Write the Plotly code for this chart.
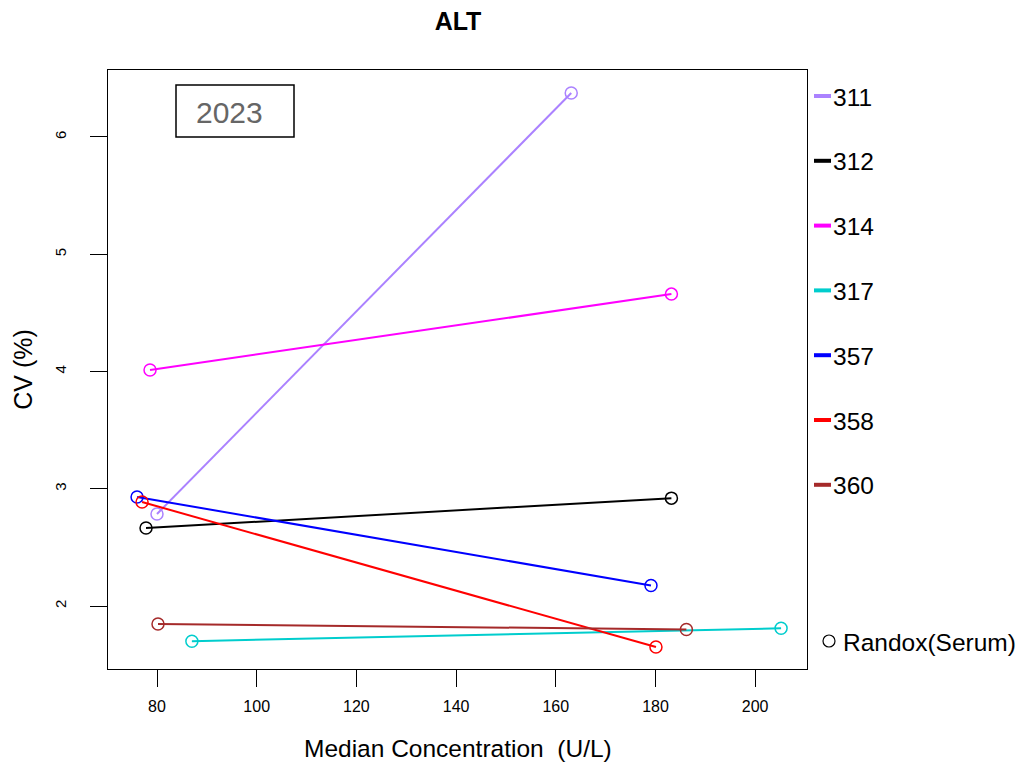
import plotly.graph_objects as go

series = ["311", "312", "314", "317", "357", "358", "360"]
colors = ["#AB82FF", "#000000", "#FF00FF", "#00CDCD", "#0000FF", "#FF0000", "#A52A2A"]
x_vals = [[80.0, 163.1], [77.8, 183.2], [78.6, 183.2], [87.0, 205.2], [76.0, 179.1], [77.0, 180.1], [80.2, 186.2]]
y_vals = [[2.785, 6.375], [2.665, 2.92], [4.013, 4.66], [1.70, 1.81], [2.93, 2.175], [2.887, 1.65], [1.847, 1.80]]
x_ticks = [80, 100, 120, 140, 160, 180, 200]
y_ticks = [2, 3, 4, 5, 6]
year_label = "2023"
marker_label = "Randox(Serum)"
x_title = "Median Concentration  (U/L)"
y_title = "CV (%)"

FONT = "Liberation Sans, Arial, sans-serif"
fig = go.Figure()
for name, c, xs, ys in zip(series, colors, x_vals, y_vals):
    fig.add_trace(go.Scatter(x=xs, y=ys, mode="lines+markers", name=name,
                             line=dict(color=c, width=2),
                             marker=dict(symbol="circle-open", size=12, color=c, line=dict(width=1.5, color=c)),
                             showlegend=False))

OFF = 8  # page body margin
W, H = 1025 - 2 * OFF, 770 - 2 * OFF
# plot box in screen pixels
SL, SR, ST, SB = 108, 807, 70, 669

def px(X):
    return (X - SL) / (SR - SL)
def py(Y):
    return (SB - Y) / (SB - ST)

shapes = []
annotations = []
# legend (drawn in paper coords)
for i, (name, c) in enumerate(zip(series, colors)):
    yc = 96 + i * 64.8
    shapes.append(dict(type="line", xref="paper", yref="paper", x0=px(814), x1=px(831),
                       y0=py(yc), y1=py(yc), line=dict(color=c, width=4)))
    annotations.append(dict(xref="paper", yref="paper", x=px(831), y=py(yc + 1), text=name,
                            showarrow=False, xanchor="left", yanchor="middle",
                            font=dict(family=FONT, size=24.5, color="black")))
shapes.append(dict(type="circle", xref="paper", yref="paper", x0=px(823), x1=px(835),
                   y0=py(647), y1=py(635), line=dict(color="black", width=1.2)))
annotations.append(dict(xref="paper", yref="paper", x=px(841), y=py(642), text=marker_label,
                        showarrow=False, xanchor="left", yanchor="middle",
                        font=dict(family=FONT, size=24.5, color="black")))
# year box
shapes.append(dict(type="rect", xref="paper", yref="paper", x0=px(176), x1=px(294),
                   y0=py(137), y1=py(85), line=dict(color="black", width=1.5)))
annotations.append(dict(xref="paper", yref="paper", x=px(229), y=py(112), text=year_label,
                        showarrow=False, xanchor="center", yanchor="middle",
                        font=dict(family=FONT, size=30, color="#666666")))
# x axis title
annotations.append(dict(xref="paper", yref="paper", x=0.5, y=py(733), text=x_title,
                        showarrow=False, xanchor="center", yanchor="top",
                        font=dict(family=FONT, size=24.5, color="black")))

fig.update_layout(
    width=W, height=H,
    margin=dict(l=SL - OFF, r=W - (SR - OFF), t=ST - OFF, b=H - (SB - OFF), autoexpand=False),
    plot_bgcolor="white", paper_bgcolor="white",
    title=dict(text="<b>ALT</b>", x=(458 - OFF) / W, xanchor="center", y=1 - (21 - OFF) / H, yanchor="middle",
               font=dict(family=FONT, size=25, color="black")),
    shapes=shapes, annotations=annotations,
    font=dict(family=FONT, color="black"),
)
fig.update_xaxes(range=[70.17, 210.4], tickvals=x_ticks, ticks="outside", ticklen=17, tickwidth=1.3,
                 tickcolor="black", showgrid=False, zeroline=False, showline=True, linecolor="black",
                 linewidth=1.3, mirror=True, tickfont=dict(size=16), ticklabelstandoff=6, automargin=False)
fig.update_yaxes(range=[1.463, 6.571], tickvals=y_ticks, ticks="outside", ticklen=17, tickwidth=1.3,
                 tickcolor="black", showgrid=False, zeroline=False, showline=True, linecolor="black",
                 linewidth=1.3, mirror=True, tickfont=dict(size=15), tickangle=-90, ticklabelstandoff=18,
                 automargin=False,
                 title=dict(text=y_title, font=dict(size=25), standoff=12))

fig.write_html("out.html")
